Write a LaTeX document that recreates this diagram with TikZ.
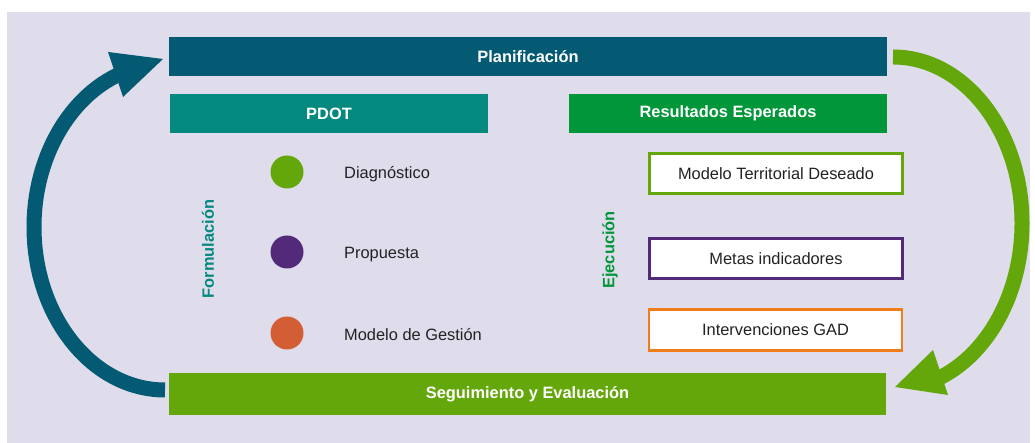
\documentclass[tikz,border=0pt]{standalone}
\usepackage{fontspec}
\setmainfont{Liberation Sans}
\definecolor{bgc}{HTML}{DFDDEC}
\definecolor{navy}{HTML}{035A72}
\definecolor{tealc}{HTML}{04897F}
\definecolor{greenc}{HTML}{009639}
\definecolor{limec}{HTML}{64A70B}
\definecolor{purplec}{HTML}{532A7A}
\definecolor{orangedot}{HTML}{D35E35}
\definecolor{orangeline}{HTML}{F07D1A}
\definecolor{txt}{HTML}{222222}
\begin{document}
\begin{tikzpicture}[x=1pt,y=1pt,font=\fontsize{16.4}{19}\selectfont,
  bar/.style={rectangle,inner sep=0pt,text=white,font=\fontsize{16.4}{19}\selectfont\bfseries},
  dot/.style={circle,inner sep=0pt,minimum size=33pt},
  lbl/.style={anchor=west,inner sep=0pt,text=txt},
  resbox/.style={rectangle,fill=white,line width=2.6pt,minimum width=253pt,minimum height=40.5pt,inner sep=0pt,text=txt},
  side/.style={rotate=90,inner sep=0pt,font=\fontsize{16.4}{19}\selectfont\bfseries}]
\useasboundingbox (0,0) rectangle (1035,443);
\fill[bgc] (7,0) rectangle (1030,431);
% bars
\node[bar,fill=navy,minimum width=718pt,minimum height=39pt] (plan) at (528,386.5) {Planificación};
\node[bar,fill=tealc,minimum width=318pt,minimum height=39pt] (pdot) at (329,329.5) {PDOT};
\node[bar,fill=greenc,minimum width=318pt,minimum height=39pt] (res) at (728,329.5) {Resultados Esperados};
\node[bar,fill=limec,minimum width=717pt,minimum height=42pt] (seg) at (527.5,49) {Seguimiento y Evaluación};
% formulation
\node[dot,fill=limec] (d1) at (287,271) {};
\node[dot,fill=purplec] (d2) at (287,191) {};
\node[dot,fill=orangedot] (d3) at (287,110) {};
\node[lbl] (l1) at (344,268.5) {Diagnóstico};
\node[lbl] (l2) at (344,188.5) {Propuesta};
\node[lbl] (l3) at (344,108) {Modelo de Gestión};
\node[side,text=tealc] (form) at (208,194) {Formulación};
% execution
\node[side,text=greenc] (ejec) at (610,193) {Ejecución};
\node[resbox,draw=limec] (b1) at (776,269.5) {Modelo Territorial Deseado};
\node[resbox,draw=purplec] (b2) at (776,184.5) {Metas indicadores};
\node[resbox,draw=orangeline] (b3) at (775.5,113) {Intervenciones GAD};
% left cycle arrow (Seguimiento -> Planificacion)
\coordinate (ltail) at (165,53);
\coordinate (ltip) at (163,384);
\draw[navy,line width=15pt] (ltail) arc[start angle=270,end angle=110,x radius=131,y radius=163];
\fill[navy] (108,391) -- (ltip) -- (123,346) -- cycle;
% right cycle arrow (Planificacion -> Seguimiento)
\coordinate (rtail) at (893,386);
\coordinate (rtip) at (895,56);
\draw[limec,line width=15pt] (rtail) arc[start angle=90,end angle=-70,x radius=129,y radius=166];
\fill[limec] (933,93) -- (rtip) -- (948,48) -- cycle;
\end{tikzpicture}
\end{document}
